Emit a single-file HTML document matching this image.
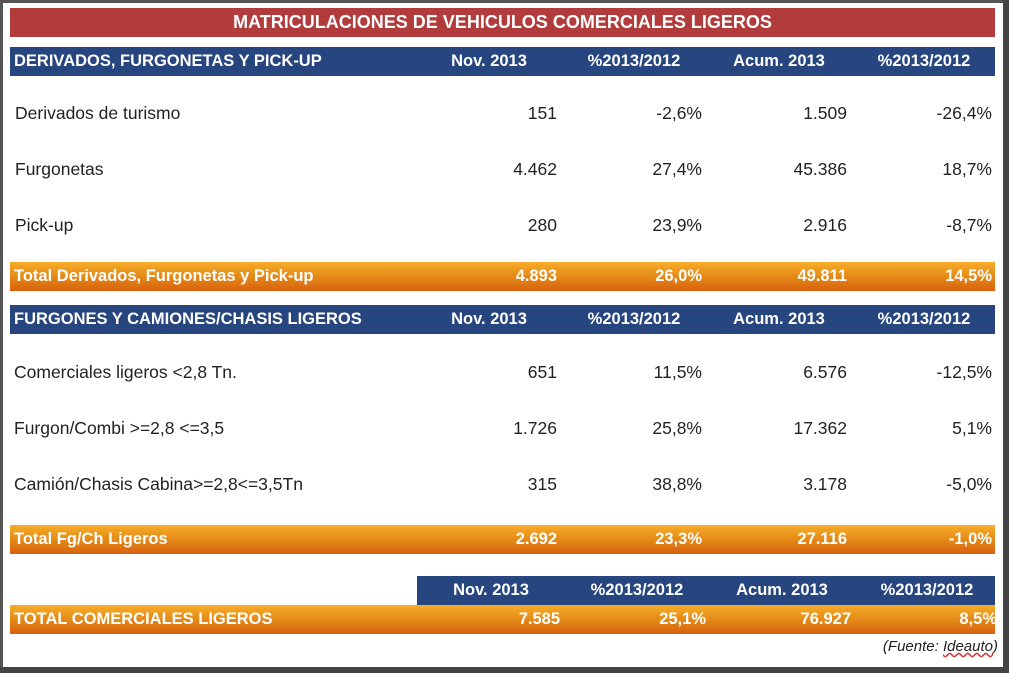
<!DOCTYPE html>
<html><head><meta charset="utf-8"><style>
body{margin:0;width:1009px;height:673px;background:#fff;position:relative;overflow:hidden;font-family:"Liberation Sans",sans-serif;}
.frame{position:absolute;left:0;top:0;width:1003px;height:667px;border-left:3px solid #555;border-top:3px solid #555;box-sizing:border-box;}
.rb{position:absolute;left:1003px;top:0;width:6px;height:673px;background:#444;}
.bb{position:absolute;left:0;top:667px;width:1009px;height:6px;background:#444;}
.bar{position:absolute;left:10px;width:985px;height:29px;}
.red{background:#b23b3c;top:8px;color:#fff;font-weight:bold;font-size:18px;text-align:center;line-height:29px;}
.blue{background:#27457f;color:#fff;font-weight:bold;font-size:16.5px;}
.or{background:linear-gradient(#f7ad2a,#e48a17 50%,#d9600f);color:#fff;font-weight:bold;font-size:16.5px;}
.t{position:absolute;white-space:nowrap;line-height:29px;top:0;}
.c{transform:translateX(-50%);}
.r{transform:translateX(-100%);}
.row{position:absolute;left:10px;width:985px;height:29px;font-size:17.5px;color:#222;}
</style></head><body>
<div class="frame"></div><div class="rb"></div><div class="bb"></div>
<div class="bar red">MATRICULACIONES DE VEHICULOS COMERCIALES LIGEROS</div>

<div class="bar blue" style="top:47px"><span class="t" style="left:4px">DERIVADOS, FURGONETAS Y PICK-UP</span><span class="t c" style="left:479px">Nov. 2013</span><span class="t c" style="left:624px">%2013/2012</span><span class="t c" style="left:769px">Acum. 2013</span><span class="t c" style="left:914px">%2013/2012</span></div>

<div class="row" style="top:99px"><span class="t" style="left:5px">Derivados de turismo</span><span class="t r" style="left:547px">151</span><span class="t r" style="left:692px">-2,6%</span><span class="t r" style="left:837px">1.509</span><span class="t r" style="left:982px">-26,4%</span></div>
<div class="row" style="top:155px"><span class="t" style="left:5px">Furgonetas</span><span class="t r" style="left:547px">4.462</span><span class="t r" style="left:692px">27,4%</span><span class="t r" style="left:837px">45.386</span><span class="t r" style="left:982px">18,7%</span></div>
<div class="row" style="top:211px"><span class="t" style="left:5px">Pick-up</span><span class="t r" style="left:547px">280</span><span class="t r" style="left:692px">23,9%</span><span class="t r" style="left:837px">2.916</span><span class="t r" style="left:982px">-8,7%</span></div>

<div class="bar or" style="top:262px"><span class="t" style="left:4px">Total Derivados, Furgonetas y Pick-up</span><span class="t r" style="left:547px">4.893</span><span class="t r" style="left:692px">26,0%</span><span class="t r" style="left:837px">49.811</span><span class="t r" style="left:982px">14,5%</span></div>

<div class="bar blue" style="top:305px"><span class="t" style="left:4px">FURGONES Y CAMIONES/CHASIS LIGEROS</span><span class="t c" style="left:479px">Nov. 2013</span><span class="t c" style="left:624px">%2013/2012</span><span class="t c" style="left:769px">Acum. 2013</span><span class="t c" style="left:914px">%2013/2012</span></div>

<div class="row" style="top:358px"><span class="t" style="left:4px">Comerciales ligeros &lt;2,8 Tn.</span><span class="t r" style="left:547px">651</span><span class="t r" style="left:692px">11,5%</span><span class="t r" style="left:837px">6.576</span><span class="t r" style="left:982px">-12,5%</span></div>
<div class="row" style="top:414px"><span class="t" style="left:4px">Furgon/Combi &gt;=2,8 &lt;=3,5</span><span class="t r" style="left:547px">1.726</span><span class="t r" style="left:692px">25,8%</span><span class="t r" style="left:837px">17.362</span><span class="t r" style="left:982px">5,1%</span></div>
<div class="row" style="top:470px"><span class="t" style="left:4px">Camión/Chasis Cabina&gt;=2,8&lt;=3,5Tn</span><span class="t r" style="left:547px">315</span><span class="t r" style="left:692px">38,8%</span><span class="t r" style="left:837px">3.178</span><span class="t r" style="left:982px">-5,0%</span></div>

<div class="bar or" style="top:525px"><span class="t" style="left:4px">Total Fg/Ch Ligeros</span><span class="t r" style="left:547px">2.692</span><span class="t r" style="left:692px">23,3%</span><span class="t r" style="left:837px">27.116</span><span class="t r" style="left:982px">-1,0%</span></div>

<div class="bar blue" style="top:576px;left:417px;width:578px"><span class="t c" style="left:74px">Nov. 2013</span><span class="t c" style="left:220px">%2013/2012</span><span class="t c" style="left:365px">Acum. 2013</span><span class="t c" style="left:510px">%2013/2012</span></div>
<div class="bar or" style="top:605px"><span class="t" style="left:4px">TOTAL COMERCIALES LIGEROS</span><span class="t r" style="left:550px">7.585</span><span class="t r" style="left:696px">25,1%</span><span class="t r" style="left:841px">76.927</span><span class="t r" style="left:987px">8,5%</span></div>

<div style="position:absolute;top:638px;right:11px;font-size:15px;font-style:italic;color:#222;">(Fuente: <span style="text-decoration:underline wavy #d33;">Ideauto</span>)</div>
</body></html>
